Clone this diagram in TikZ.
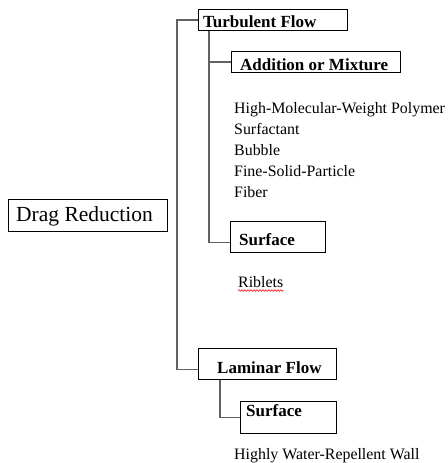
\documentclass[tikz,border=0pt]{standalone}
\usepackage{fontspec}
\setmainfont{Liberation Serif}
\usetikzlibrary{decorations.pathmorphing}
\tikzset{
  bx/.style={draw=black, line width=0.9pt, rectangle, inner sep=0pt, anchor=north west},
  conn/.style={draw=black!62, line width=1.3pt},
  blbl/.style={anchor=base west, inner sep=0pt, font=\fontsize{17}{20}\selectfont\bfseries},
  item/.style={anchor=base west, inner sep=0pt, font=\fontsize{15.9}{19}\selectfont},
  big/.style={anchor=base west, inner sep=0pt, font=\fontsize{21.5}{25}\selectfont},
}
\begin{document}
\begin{tikzpicture}[x=1pt,y=-1pt]
\useasboundingbox (0,0) rectangle (447,463);
% boxes
\node[bx, minimum width=159, minimum height=32] (dr) at (8,199) {};
\node[big] (drl) at (16,221.7) {Drag Reduction};
\node[bx, minimum width=149, minimum height=21] (tf) at (198,9) {};
\node[blbl] (tfl) at (203,27.3) {Turbulent Flow};
\node[bx, minimum width=169, minimum height=21] (am) at (231,51) {};
\node[blbl] (aml) at (240,70.7) {Addition or Mixture};
\node[bx, minimum width=95, minimum height=31] (s1) at (230,221) {};
\node[blbl] (s1l) at (239,245) {Surface};
\node[bx, minimum width=138, minimum height=31] (lf) at (198,348) {};
\node[blbl] (lfl) at (217,373) {Laminar Flow};
\node[bx, minimum width=96, minimum height=32] (s2) at (240,401) {};
\node[blbl] (s2l) at (246,416.7) {Surface};
% items
\node[item] (i1) at (234,113) {High-Molecular-Weight Polymer};
\node[item] (i2) at (234,134) {Surfactant};
\node[item] (i3) at (234,155) {Bubble};
\node[item] (i4) at (234,176) {Fine-Solid-Particle};
\node[item] (i5) at (234,197) {Fiber};
\node[item] (rib) at (238,287) {Riblets};
\node[item] (hw) at (234,459) {Highly Water-Repellent Wall};
\draw[red, line width=0.6pt, decorate, decoration={snake, amplitude=0.8pt, segment length=3pt}]
  ([yshift=-3.5]rib.base west) -- ([yshift=-3.5]rib.base east);
% connectors
\coordinate (trunk) at (177,0);
\coordinate (tin) at (209,0);
\coordinate (lin) at (220,0);
\coordinate (lfc) at ([yshift=-5.5]lf.west);
\coordinate (s1c) at ([yshift=-5.5]s1.west);
\draw[conn] (tf.west) -| (trunk |- lfc) -- (lfc);
\draw[conn] (tin |- tf.south) -- (tin |- s1c) -- (s1c);
\draw[conn] (tin |- am.west) -- (am.west);
\draw[conn] (lin |- lf.south) -- (lin |- s2.west) -- (s2.west);
\end{tikzpicture}
\end{document}
